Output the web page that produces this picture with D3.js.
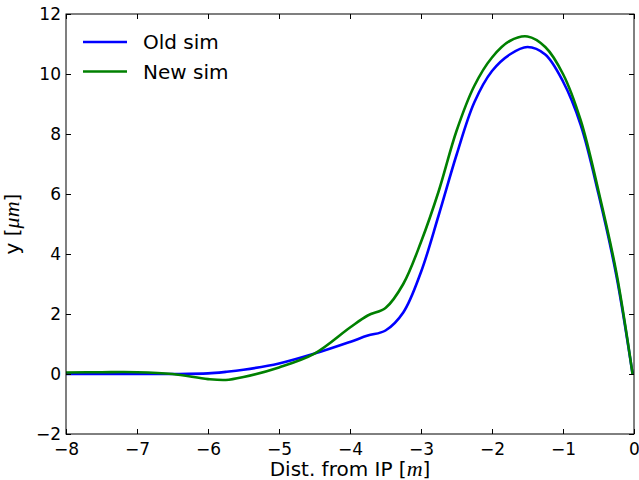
<!DOCTYPE html>
<html>
<head>
<meta charset="utf-8">
<script src="https://cdn.jsdelivr.net/npm/d3@7"></script>
<style>
  body { margin: 0; background: #fff; }
  svg { display: block; }
  text { font-family: "DejaVu Sans", sans-serif; }
</style>
</head>
<body>
<svg id="chart" width="639" height="480"></svg>
<script>
// distance from IP [m], shared by both series
const distances = [-8, -7.5, -7, -6.5, -6, -5.75, -5.5, -5, -4.5, -4, -3.75, -3.5, -3.25,
    -3, -2.75, -2.5, -2.25, -2, -1.75, -1.5, -1.25, -1, -0.75, -0.5, -0.25, -0.02];

const oldSim = [0, 0, 0, 0, 0.02, 0.07, 0.14, 0.35, 0.68, 1.07, 1.28, 1.45, 2.05,
    3.4, 5.3, 7.3, 9.05, 10.1, 10.65, 10.9, 10.65, 9.75, 8.3, 6.0, 3.3, 0];

const newSim = [0.05, 0.06, 0.06, 0, -0.17, -0.2, -0.1, 0.22, 0.68, 1.55, 1.95, 2.2, 3.0,
    4.4, 6.1, 8.1, 9.6, 10.55, 11.1, 11.25, 10.9, 10.0, 8.45, 6.1, 3.4, 0];

const xTicks = [-8, -7, -6, -5, -4, -3, -2, -1, 0];
const yTicks = [-2, 0, 2, 4, 6, 8, 10, 12];

const seriesNames = ["Old sim", "New sim"];
const seriesColors = ["#0000ff", "#008000"];

const margin = {top: 14, right: 5, bottom: 46, left: 66},
    width = 639 - margin.left - margin.right,
    height = 480 - margin.top - margin.bottom;

const svg = d3.select("#chart")
    .append("g")
    .attr("transform", "translate(" + margin.left + "," + margin.top + ")");

const x = d3.scaleLinear().domain([-8, 0]).range([0, width]);
const y = d3.scaleLinear().domain([-2, 12]).range([height, 0]);

// lines
const line = d3.line()
    .x(function(d) { return x(d[0]); })
    .y(function(d) { return y(d[1]); })
    .curve(d3.curveCatmullRom.alpha(0.5));

[oldSim, newSim].forEach(function(vals, i) {
    svg.append("path")
        .datum(distances.map(function(d, j) { return [d, vals[j]]; }))
        .attr("fill", "none")
        .attr("stroke", seriesColors[i])
        .attr("stroke-width", 2.6)
        .attr("stroke-linejoin", "round")
        .attr("d", line);
});

// axes, ticks pointing inwards like matplotlib
svg.append("g")
    .attr("class", "x-axis")
    .attr("transform", "translate(0," + height + ")")
    .call(d3.axisBottom(x).tickValues(xTicks).tickSizeInner(-5).tickSizeOuter(0).tickPadding(9));

svg.append("g")
    .attr("class", "y-axis")
    .call(d3.axisLeft(y).tickValues(yTicks).tickSizeInner(-5).tickSizeOuter(0).tickPadding(5));

svg.append("g")
    .call(d3.axisTop(x).tickValues(xTicks).tickSizeInner(-5).tickSizeOuter(0).tickFormat(""));

svg.append("g")
    .attr("transform", "translate(" + width + ",0)")
    .call(d3.axisRight(y).tickValues(yTicks).tickSizeInner(-5).tickSizeOuter(0).tickFormat(""));

svg.selectAll(".domain").remove();
svg.selectAll(".tick line").attr("stroke", "#000");
svg.selectAll(".tick text")
    .attr("fill", "#000")
    .style("font-size", "17px")
    .style("font-family", "DejaVu Sans");

svg.append("rect")
    .attr("width", width)
    .attr("height", height)
    .attr("fill", "none")
    .attr("stroke", "#000")
    .attr("stroke-width", 1);

// axis labels
const xLabel = svg.append("text")
    .attr("x", width / 2)
    .attr("y", height + 42)
    .attr("text-anchor", "middle")
    .style("font-size", "20px");
xLabel.append("tspan").text("Dist. from IP [");
xLabel.append("tspan").style("font-family", "Liberation Serif").style("font-style", "italic")
    .style("font-size", "22px").text("m");
xLabel.append("tspan").text("]");

const yLabel = svg.append("text")
    .attr("transform", "translate(" + (-47) + "," + (height / 2) + ") rotate(-90)")
    .attr("text-anchor", "middle")
    .style("font-size", "20px");
yLabel.append("tspan").text("y [");
yLabel.append("tspan").style("font-family", "Liberation Serif").style("font-style", "italic")
    .style("font-size", "22px").text("μm");
yLabel.append("tspan").text("]");

// legend
const legend = svg.selectAll("g.legend")
    .data(seriesNames)
    .enter()
    .append("g")
    .attr("class", "legend")
    .attr("transform", function(d, i) { return "translate(17," + (28 + i * 29.5) + ")"; });

legend.append("line")
    .attr("x1", 0).attr("x2", 44)
    .attr("stroke", function(d, i) { return seriesColors[i]; })
    .attr("stroke-width", 2.6);

legend.append("text")
    .attr("x", 60)
    .attr("dy", "0.36em")
    .style("font-size", "20px")
    .text(function(d) { return d; });
</script>
</body>
</html>
